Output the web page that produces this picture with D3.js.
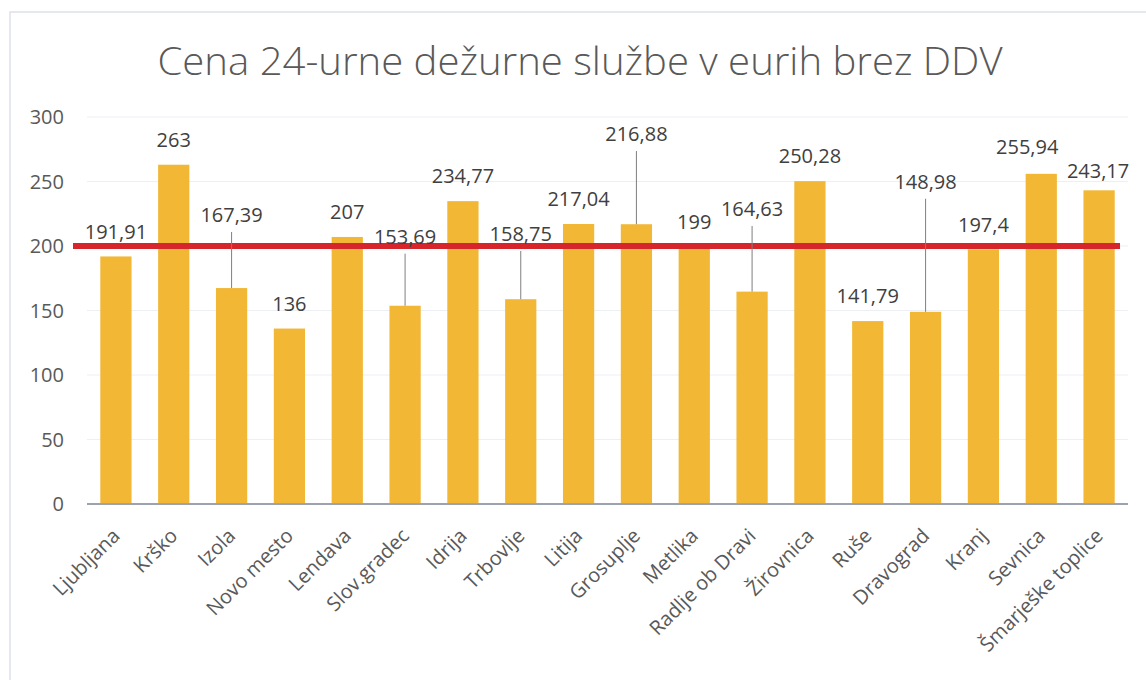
<!DOCTYPE html>
<html><head><meta charset="utf-8">
<script src="https://cdn.jsdelivr.net/npm/d3@7"></script>
<style>html,body{margin:0;padding:0;background:#fff;}svg{display:block;}</style>
</head><body>
<svg id="chart" width="1146" height="680"></svg>
<script>
const title = "Cena 24-urne dežurne službe v eurih brez DDV";
const categories = ["Ljubljana","Krško","Izola","Novo mesto","Lendava","Slov.gradec","Idrija","Trbovlje","Litija","Grosuplje","Metlika","Radlje ob Dravi","Žirovnica","Ruše","Dravograd","Kranj","Sevnica","Šmarješke toplice"];
const values = [191.91,263,167.39,136,207,153.69,234.77,158.75,217.04,216.88,199,164.63,250.28,141.79,148.98,197.4,255.94,243.17];
const valueLabels = ["191,91","263","167,39","136","207","153,69","234,77","158,75","217,04","216,88","199","164,63","250,28","141,79","148,98","197,4","255,94","243,17"];
const yTicks = [0,50,100,150,200,250,300];
const threshold = 200;
// label placement (value units where a moved label sits; null = default above bar)
const labelAt = [null,null,224,null,null,207.2,null,209.3,null,286.8,null,228.7,null,null,249.8,null,277,258.4];
const labelShift = [0,0,0,0,0,0,0,0,0,0,0,0,0,0,0,0,-14,-1];
const leader = [false,false,true,false,false,true,false,true,false,true,false,true,false,false,true,false,false,false];

const svg = d3.select("#chart");
// frame
svg.append("rect").attr("x",10).attr("y",12).attr("width",1150).attr("height",700)
  .attr("fill","none").attr("stroke","#dde1e6").attr("stroke-width",1.5);

const x = d3.scaleBand().domain(categories).range([87,1128]).paddingInner(0.46).paddingOuter(0.23);
const y = d3.scaleLinear().domain([0,300]).range([504,117]);

const t = svg.append("text").attr("x",580).attr("y",75).attr("text-anchor","middle")
  .attr("font-family","Open Sans").attr("font-weight",300).attr("font-size",39)
  .attr("fill","#595959").text(title);
t.attr("textLength",845).attr("lengthAdjust","spacingAndGlyphs");

// grid
svg.append("g").selectAll("line").data(yTicks.filter(t=>t>0)).join("line")
  .attr("x1",87).attr("x2",1128).attr("y1",d=>y(d)).attr("y2",d=>y(d))
  .attr("stroke","#eceff4").attr("stroke-width",1);

// y tick labels
svg.append("g").selectAll("text").data(yTicks).join("text")
  .attr("x",64).attr("y",d=>y(d)).attr("dy","0.36em").attr("text-anchor","end")
  .attr("font-family","Open Sans").attr("font-size",20).attr("fill","#595959")
  .text(d=>d);

// bars
svg.append("g").selectAll("rect").data(values).join("rect")
  .attr("x",(d,i)=>x(categories[i])).attr("width",x.bandwidth())
  .attr("y",d=>y(d)).attr("height",d=>y(0)-y(d)).attr("fill","#F1B735");

// axis line
svg.append("line").attr("x1",87).attr("x2",1128).attr("y1",y(0)).attr("y2",y(0))
  .attr("stroke","#9aa3ae").attr("stroke-width",2);

// threshold line
svg.append("line").attr("x1",73).attr("x2",1120).attr("y1",y(threshold)).attr("y2",y(threshold))
  .attr("stroke","#D7262B").attr("stroke-width",6);

// leader lines
const lblY = i => labelAt[i]==null ? y(values[i]) - 25 : y(labelAt[i]);
svg.append("g").selectAll("line").data(values.map((v,i)=>i).filter(i=>leader[i])).join("line")
  .attr("x1",i=>x(categories[i])+x.bandwidth()/2).attr("x2",i=>x(categories[i])+x.bandwidth()/2)
  .attr("y1",i=>lblY(i)+17).attr("y2",i=>y(values[i]))
  .attr("stroke","#7f7f7f").attr("stroke-width",1);

// data labels
svg.append("g").selectAll("text").data(values).join("text")
  .attr("x",(d,i)=>x(categories[i])+x.bandwidth()/2+labelShift[i])
  .attr("y",(d,i)=>lblY(i)).attr("dy","0.36em").attr("text-anchor","middle")
  .attr("font-family","Open Sans").attr("font-size",20).attr("fill","#404040")
  .text((d,i)=>valueLabels[i]);

// x labels
svg.append("g").selectAll("text").data(categories).join("text")
  .attr("transform",d=>`translate(${x(d)+x.bandwidth()/2},${y(0)+28}) rotate(-45)`)
  .attr("text-anchor","end").attr("dy","0.36em")
  .attr("font-family","Open Sans").attr("font-size",20).attr("fill","#595959")
  .text(d=>d);
</script>
</body></html>
